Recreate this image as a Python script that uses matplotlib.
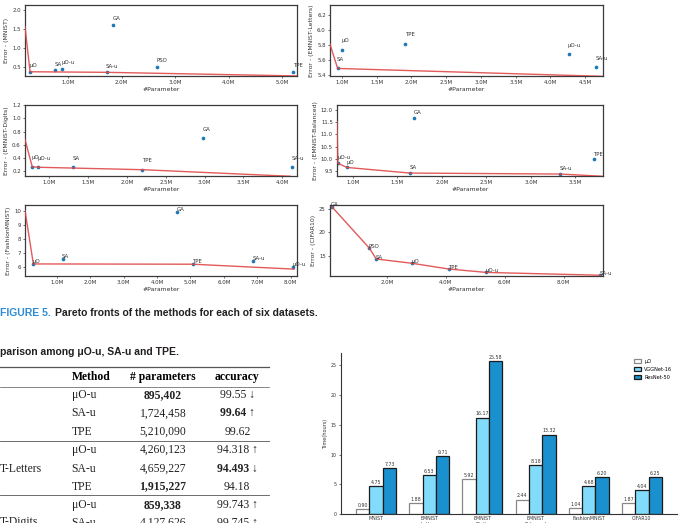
import matplotlib
matplotlib.use('Agg')
import matplotlib.pyplot as plt

W, H = 681, 523

# Pareto data: x = #parameters (millions), y = error (%)
mnist_names = ['μO', 'SA', 'μO-u', 'GA', 'SA-u', 'PSO', 'TPE']
mnist_x = [0.29, 0.76, 0.895, 1.84, 1.724, 2.66, 5.21]
mnist_y = [0.375, 0.41, 0.45, 1.61, 0.36, 0.50, 0.38]
mnist_front_x = [0.196, 0.29, 1.724, 5.3]
mnist_front_y = [1.55, 0.375, 0.36, 0.265]

letters_names = ['μO', 'SA', 'TPE', 'μO-u', 'SA-u']
letters_x = [1.0, 0.94, 1.915, 4.26, 4.659]
letters_y = [5.74, 5.49, 5.82, 5.68, 5.507]
letters_front_x = [0.83, 0.94, 4.76]
letters_front_y = [5.81, 5.49, 5.385]

digits_names = ['μO', 'μO-u', 'SA', 'TPE', 'GA', 'SA-u']
digits_x = [0.78, 0.859, 1.31, 2.2, 2.98, 4.128]
digits_y = [0.265, 0.257, 0.26, 0.22, 0.70, 0.255]
digits_front_x = [0.687, 0.78, 0.859, 2.2, 4.1]
digits_front_y = [0.68, 0.265, 0.257, 0.22, 0.12]

balanced_names = ['μO-u', 'μO', 'SA', 'GA', 'SA-u', 'TPE']
balanced_x = [0.83, 0.93, 1.64, 1.69, 3.33, 3.71]
balanced_y = [9.82, 9.65, 9.42, 11.68, 9.38, 9.98]
balanced_front_x = [0.82, 0.83, 0.93, 1.64, 3.33, 3.85]
balanced_front_y = [11.52, 9.82, 9.65, 9.42, 9.38, 9.28]

fashion_names = ['μO', 'SA', 'GA', 'TPE', 'SA-u', 'μO-u']
fashion_x = [0.3, 1.18, 4.6, 5.07, 6.88, 8.07]
fashion_y = [6.19, 6.53, 9.93, 6.17, 6.43, 5.98]
fashion_front_x = [0.05, 0.3, 5.07, 8.1]
fashion_front_y = [10.0, 6.2, 6.18, 5.83]

cifar_names = ['GA', 'PSO', 'SA', 'μO', 'TPE', 'μO-u', 'SA-u']
cifar_x = [0.13, 1.41, 1.64, 2.85, 4.1, 5.38, 9.25]
cifar_y = [25.5, 16.64, 14.36, 13.45, 12.23, 11.5, 10.9]
cifar_front_x = cifar_x
cifar_front_y = cifar_y

# table data
table_method = ['μO-u', 'SA-u', 'TPE', 'μO-u', 'SA-u', 'TPE', 'μO-u', 'SA-u']
table_params = ['895,402', '1,724,458', '5,210,090', '4,260,123', '4,659,227',
                '1,915,227', '859,338', '4,127,626']
table_acc = ['99.55 ↓', '99.64 ↑', '99.62', '94.318 ↑', '94.493 ↓', '94.18',
             '99.743 ↑', '99.745 ↑']
bold_params = [0, 5, 6]
bold_acc = [1, 4]

# bar chart data
bar_datasets = ['MNIST', 'EMNIST\nLetters', 'EMNIST\nDigits', 'EMNIST\nBalanced',
                'FashionMNIST', 'CIFAR10']
time_uo = [0.90, 1.88, 5.92, 2.44, 1.04, 1.87]
time_vgg = [4.75, 6.53, 16.17, 8.18, 4.68, 4.04]
time_resnet = [7.73, 9.71, 25.58, 13.32, 6.20, 6.25]


def px(l, t, r, b):
    return [l / W, 1 - b / H, (r - l) / W, (b - t) / H]


fig = plt.figure(figsize=(W / 100, H / 100), dpi=100)


def pareto(rect, names, xs, ys, fx, fy, xlim, ylim, xticks, yticks, yfmt,
           ylabel, dy):
    ax = fig.add_axes(rect)
    ax.plot(fx, fy, color='#e04848', lw=1.0, alpha=0.9, zorder=3)
    ax.scatter(xs, ys, s=7, color='#1f77b4', zorder=2, linewidths=0)
    for n, x, y in zip(names, xs, ys):
        ax.annotate(n, (x, y), xytext=(-0.5, dy), textcoords='offset points',
                    fontsize=3.9, color='#333333', ha='left', va='bottom',
                    annotation_clip=False)
    ax.set_xlim(*xlim)
    ax.set_ylim(*ylim)
    ax.set_xticks(xticks)
    ax.set_xticklabels(['%.1fM' % v for v in xticks])
    ax.set_yticks(yticks)
    ax.set_yticklabels([yfmt % v for v in yticks])
    ax.tick_params(labelsize=3.9, length=1.5, width=0.5, pad=1.5,
                   colors='#333333')
    for s in ax.spines.values():
        s.set_color('#3a3a3a')
        s.set_linewidth(0.9)
    ax.set_ylabel(ylabel, fontsize=4.4, labelpad=2, color='#333333')
    ax.set_xlabel('#Parameter', fontsize=4.4, labelpad=1.5, color='#333333')
    return ax


pareto(px(25, 5, 297, 76), mnist_names, mnist_x, mnist_y, mnist_front_x,
       mnist_front_y, (0.196, 5.28), (0.264, 2.12), [1, 2, 3, 4, 5],
       [0.5, 1.0, 1.5, 2.0], '%.1f', 'Error - (MNIST)', 2.5)
pareto(px(330, 5, 603, 76), letters_names, letters_x, letters_y,
       letters_front_x, letters_front_y, (0.83, 4.755), (5.39, 6.33),
       [1.0, 1.5, 2.0, 2.5, 3.0, 3.5, 4.0, 4.5], [5.4, 5.6, 5.8, 6.0, 6.2],
       '%.1f', 'Error - (EMNIST-Letters)', 4.5)
pareto(px(25, 105, 297, 176), digits_names, digits_x, digits_y,
       digits_front_x, digits_front_y, (0.687, 4.19), (0.124, 1.205),
       [1.0, 1.5, 2.0, 2.5, 3.0, 3.5, 4.0], [0.2, 0.4, 0.6, 0.8, 1.0, 1.2],
       '%.1f', 'Error - (EMNIST-Digits)', 4.5)
pareto(px(337, 105, 603, 176), balanced_names, balanced_x, balanced_y,
       balanced_front_x, balanced_front_y, (0.82, 3.81), (9.3, 12.2),
       [1.0, 1.5, 2.0, 2.5, 3.0, 3.5], [9.5, 10.0, 10.5, 11.0, 11.5, 12.0],
       '%.1f', 'Error - (EMNIST-Balanced)', 2.0)
pareto(px(25, 205, 297, 276), fashion_names, fashion_x, fashion_y,
       fashion_front_x, fashion_front_y, (0.05, 8.19), (5.34, 10.4),
       [1, 2, 3, 4, 5, 6, 7, 8], [6, 7, 8, 9, 10], '%d',
       'Error - (FashionMNIST)', 0.0)
pareto(px(330, 205, 603, 276), cifar_names, cifar_x, cifar_y, cifar_front_x,
       cifar_front_y, (0.07, 9.34), (10.74, 25.85), [2, 4, 6, 8],
       [15, 20, 25], '%d', 'Error - (CIFAR10)', -0.5)

# overlay for caption and table (pixel coordinates)
ov = fig.add_axes([0, 0, 1, 1])
ov.set_xlim(0, W)
ov.set_ylim(H, 0)
ov.axis('off')

sans = ['Liberation Sans Narrow', 'Liberation Sans', 'DejaVu Sans']
serif = ['Liberation Serif', 'DejaVu Serif']

t1 = ov.text(0, 313, 'FIGURE 5.', color='#2e8bd6', fontweight='bold',
             fontsize=7.5, family=sans, va='center', ha='left')
ov.annotate('Pareto fronts of the methods for each of six datasets.',
            xy=(1, 0.5), xycoords=t1, xytext=(3, 0),
            textcoords='offset points', va='center', ha='left',
            fontweight='bold', fontsize=7.5, family=sans, color='#231f20')
ov.text(0, 351.7, 'parison among μO-u, SA-u and TPE.', fontweight='bold',
        fontsize=7.5, family=sans, va='center', ha='left', color='#231f20')

# table rules
ov.plot([0, 269], [367.3, 367.3], color='#555555', lw=0.9)
ov.plot([0, 269], [387.3, 387.3], color='#555555', lw=0.5)
ov.plot([0, 269], [440.7, 440.7], color='#555555', lw=0.6)
ov.plot([0, 269], [495, 495], color='#555555', lw=0.6)

fs = 8.4
ov.text(71.7, 376.7, 'Method', fontweight='bold', fontsize=fs, family=serif,
        va='center', ha='left')
ov.text(163, 376.7, '# parameters', fontweight='bold', fontsize=fs,
        family=serif, va='center', ha='center')
ov.text(237.3, 376.7, 'accuracy', fontweight='bold', fontsize=fs,
        family=serif, va='center', ha='center')

row_y = [395, 413.3, 431.7, 450, 468.7, 486.5, 505, 522.5]
for i, y in enumerate(row_y):
    ov.text(71.7, y, table_method[i], fontsize=fs, family=serif, va='center',
            ha='left', color='#222222')
    ov.text(163, y, table_params[i], fontsize=fs, family=serif, va='center',
            ha='center', color='#222222',
            fontweight='bold' if i in bold_params else 'normal')
    ov.text(237.3, y, table_acc[i], fontsize=fs, family=serif, va='center',
            ha='center', color='#222222',
            fontweight='bold' if i in bold_acc else 'normal')
ov.text(0, row_y[4], 'T-Letters', fontsize=fs, family=serif, va='center',
        ha='left', color='#222222')
ov.text(0, row_y[7], 'T-Digits', fontsize=fs, family=serif, va='center',
        ha='left', color='#222222')

# bar chart of running time
bx = fig.add_axes(px(341, 353, 677, 514.3))
idx = list(range(len(bar_datasets)))
bw = 0.25
b1 = bx.bar([i - bw for i in idx], time_uo, bw, color='white',
            edgecolor='#888888', lw=0.9, label='μO')
b2 = bx.bar(idx, time_vgg, bw, color='#80dcfa', edgecolor='#1a1a1a', lw=0.9,
            label='VGGNet-16')
b3 = bx.bar([i + bw for i in idx], time_resnet, bw, color='#1a90cf',
            edgecolor='#1a1a1a', lw=0.9, label='ResNet-50')
for bars, vals in [(b1, time_uo), (b2, time_vgg), (b3, time_resnet)]:
    for r, v in zip(bars, vals):
        bx.annotate('%.2f' % v, (r.get_x() + r.get_width() / 2, v),
                    xytext=(0, 1), textcoords='offset points', ha='center',
                    va='bottom', fontsize=3.4, color='#333333')
bx.set_xlim(-0.66, 5.66)
bx.set_ylim(0, 27)
bx.set_yticks([0, 5, 10, 15, 20, 25])
bx.set_xticks(idx)
bx.set_xticklabels(bar_datasets)
bx.tick_params(labelsize=3.4, length=1.5, width=0.5, pad=1.5,
               colors='#333333')
bx.tick_params(axis='x', length=0)
bx.spines['top'].set_visible(False)
bx.spines['right'].set_visible(False)
bx.spines['left'].set_color('#333333')
bx.spines['bottom'].set_color('#333333')
bx.spines['left'].set_linewidth(0.8)
bx.spines['bottom'].set_linewidth(0.8)
bx.set_ylabel('Time(hours)', fontsize=3.6, labelpad=2, color='#333333')
bx.legend(loc='upper right', bbox_to_anchor=(1.0, 0.99), fontsize=3.6,
          frameon=False, handlelength=1.4, handleheight=0.9,
          labelspacing=0.6, handletextpad=0.6)

fig.savefig('out.png', dpi=100)
